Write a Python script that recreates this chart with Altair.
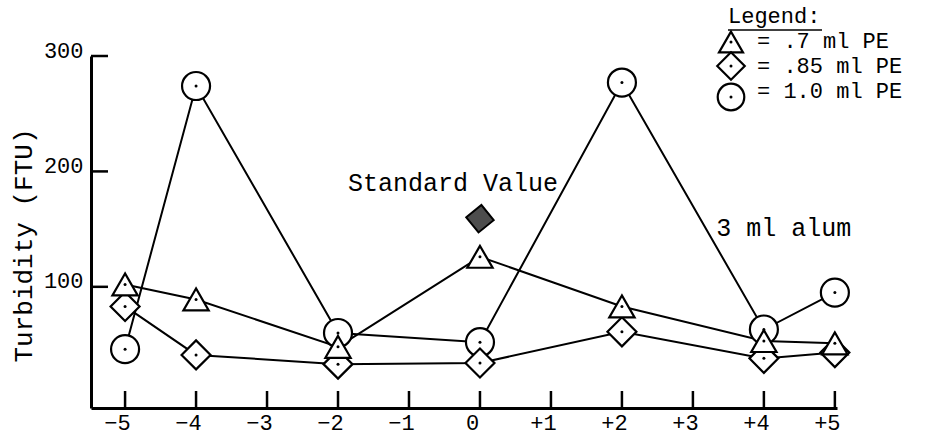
import altair as alt
import pandas as pd

# Turbidity readings (FTU) for each polyelectrolyte dose, 3 ml alum
dose_offsets = [-5, -4, -2, 0, 2, 4, 5]
pe_07 = [102, 89, 48, 126, 83, 53, 51]
pe_085 = [83, 41, 33, 34, 61, 38, 43]
pe_10 = [46, 274, 60, 52, 277, 63, 95]

series_names = [".7 ml PE", ".85 ml PE", "1.0 ml PE"]
series_shapes = ["triangle-up", "diamond", "circle"]
series_sizes = [640, 840, 784]

standard_x = [0]
standard_y = [159]

x_ticks = [-5, -4, -3, -2, -1, 0, 1, 2, 3, 4, 5]
y_ticks = [100, 200, 300]

FONT = "Liberation Mono"
W, H = 746, 352

rows = []
for name, vals in zip(series_names, [pe_07, pe_085, pe_10]):
    for xv, yv in zip(dose_offsets, vals):
        rows.append({"series": name, "offset": xv, "turbidity": yv})
df = pd.DataFrame(rows)

xscale = alt.Scale(domain=[-5.48, 5.03], nice=False, zero=False)
yscale = alt.Scale(domain=[-5, 300], nice=False, zero=False)

x_axis = alt.Axis(
    values=x_ticks, ticks=False, grid=False, domainColor="black", domainWidth=3,
    labelExpr="datum.value > 0 ? '+' + datum.value : (datum.value < 0 ? '\u2212' + abs(datum.value) : '0')",
    labelFont=FONT, labelFontSize=22, labelColor="black", labelOffset=-8, labelPadding=4,
    title=None,
)
y_axis = alt.Axis(
    values=y_ticks, ticks=False, grid=False, domainColor="black", domainWidth=3,
    labelFont=FONT, labelFontSize=22, labelColor="black", labelOffset=-6, labelPadding=8,
    title="Turbidity (FTU)", titleFont=FONT, titleFontSize=26, titleFontWeight="normal",
    titleColor="black", titleAngle=270, titleX=-68, titleY=189,
    titleAlign="center", titleBaseline="middle",
)


def xenc(field):
    return alt.X(field, scale=xscale, axis=x_axis)


def yenc(field):
    return alt.Y(field, scale=yscale, axis=y_axis)


# connecting lines for all three doses
lines = alt.Chart(df).mark_line(color="black", strokeWidth=2).encode(
    x=xenc("offset:Q"),
    y=yenc("turbidity:Q"),
    detail="series:N",
)

# inward-pointing tick marks
x_tick_marks = alt.Chart(pd.DataFrame({"t": x_ticks})).mark_rule(
    color="black", strokeWidth=2.5
).encode(
    x=xenc("t:Q"),
    y=alt.value(H),
    y2=alt.value(H - 17),
)
y_tick_marks = alt.Chart(pd.DataFrame({"t": y_ticks})).mark_rule(
    color="black", strokeWidth=2.5
).encode(
    y=yenc("t:Q"),
    x=alt.value(0),
    x2=alt.value(17),
)

layers = [lines, x_tick_marks, y_tick_marks]

# hollow markers with a centre dot; circles drawn first, triangles on top
for idx in [2, 1, 0]:
    sub = df[df["series"] == series_names[idx]]
    layers.append(
        alt.Chart(sub).mark_point(
            shape=series_shapes[idx], size=series_sizes[idx], filled=True,
            fill="white", stroke="black", strokeWidth=2.2, opacity=1,
        ).encode(x=xenc("offset:Q"), y=yenc("turbidity:Q"))
    )
    layers.append(
        alt.Chart(sub).mark_point(
            shape="circle", size=9, filled=True, color="black", opacity=1
        ).encode(x=xenc("offset:Q"), y=yenc("turbidity:Q"))
    )

std_df = pd.DataFrame({"offset": standard_x, "turbidity": standard_y})
layers.append(
    alt.Chart(std_df).mark_point(
        shape="diamond", size=760, filled=True, fill="#4d4d4d",
        stroke="black", strokeWidth=2, opacity=1, angle=6,
    ).encode(x=xenc("offset:Q"), y=yenc("turbidity:Q"))
)

# annotations
notes = pd.DataFrame({
    "offset": [-0.38, 4.28],
    "turbidity": [190, 151],
    "note": ["Standard Value", "3 ml alum"],
})
layers.append(
    alt.Chart(notes).mark_text(
        font=FONT, fontSize=25, color="black", align="center", baseline="middle"
    ).encode(x=xenc("offset:Q"), y=yenc("turbidity:Q"), text="note:N")
)

# legend block drawn in the upper right
LX0 = 637
layers.append(
    alt.Chart(pd.DataFrame({"t": ["Legend:"]})).mark_text(
        font=FONT, fontSize=22, color="black", align="left", baseline="middle"
    ).encode(x=alt.value(LX0), y=alt.value(16 - 56), text="t:N")
)
layers.append(
    alt.Chart(pd.DataFrame({"t": ["Legend:"]})).mark_rule(
        color="black", strokeWidth=1.5
    ).encode(x=alt.value(LX0), x2=alt.value(LX0 + 94), y=alt.value(30 - 56))
)
legend_text_y = [41, 66, 91]
legend_sym_y = [42, 66, 97]
for i, name in enumerate(series_names):
    leg = pd.DataFrame({"label": ["=  " + name]})
    sx, sy = 731 - 91, legend_sym_y[i] - 56
    layers.append(
        alt.Chart(leg).mark_point(
            shape=series_shapes[i], size=series_sizes[i] * 0.9, filled=True,
            fill="white", stroke="black", strokeWidth=2.2, opacity=1,
        ).encode(x=alt.value(sx), y=alt.value(sy))
    )
    layers.append(
        alt.Chart(leg).mark_point(
            shape="circle", size=9, filled=True, color="black", opacity=1
        ).encode(x=alt.value(sx), y=alt.value(sy))
    )
    layers.append(
        alt.Chart(leg).mark_text(
            font=FONT, fontSize=22, color="black", align="left", baseline="middle"
        ).encode(
            x=alt.value(757 - 91), y=alt.value(legend_text_y[i] - 56), text="label:N"
        )
    )

chart = alt.layer(*layers).properties(
    width=W,
    height=H,
    autosize=alt.AutoSizeParams(type="none"),
    padding={"left": 91, "top": 56, "right": 110, "bottom": 36},
    background="white",
).configure_view(stroke=None)

chart.save("out.html", embed_options={"renderer": "svg", "actions": False})
